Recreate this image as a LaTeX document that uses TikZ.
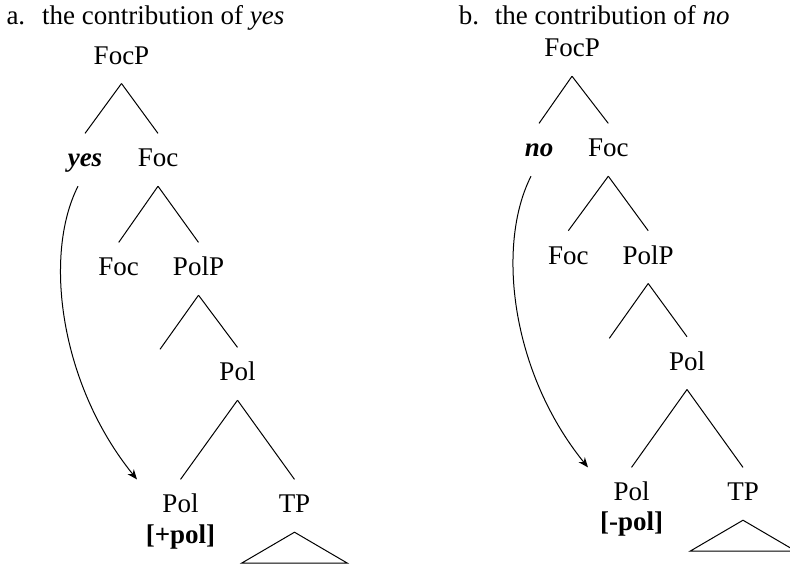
\documentclass[tikz,border=0pt]{standalone}
\usepackage{fontspec}
\setmainfont{Liberation Serif}
\usetikzlibrary{arrows.meta}
\begin{document}
\begin{tikzpicture}[x=0.5pt,y=-0.5pt,line width=0.5pt,
  cat/.style={font=\fontsize{13.5}{16}\selectfont, inner xsep=0pt, inner ysep=7.5pt, text height=8.9pt, text depth=2pt},
  lbl/.style={font=\fontsize{13.5}{16}\selectfont, inner sep=0pt, anchor=base west},
  feat/.style={font=\fontsize{13.5}{16}\selectfont\bfseries, inner sep=0pt, anchor=base},
  move/.style={-{Stealth[length=5pt,width=4pt]}}]
\useasboundingbox (0,0) rectangle (790,564);

\node[lbl] (aNum) at (6,24) {a.};
\node[lbl] (aTitle) at (41.7,24) {the contribution of \textit{yes}};
%% nodes
\node[cat] (aFocP) at (121.5,57.1) {FocP};
\node[cat] (aYes) at (85,159.8) {\textbf{\textit{yes}}};
\node[cat] (aFoc) at (158,159.8) {Foc};
\node[cat] (aFocH) at (118.7,268.8) {Foc};
\node[cat] (aPolP) at (198.5,268.8) {PolP};
\coordinate (aGap) at (160,349.3);
\node[cat] (aPol) at (237.5,373.8) {Pol};
\node[cat] (aPolH) at (180.5,505.8) {Pol};
\node[feat] (aFeat) at (180.5,543.3) {[+pol]};
\node[cat] (aTP) at (294.5,505.8) {TP};
%%% edges
\draw (aFocP.south) -- (aYes.north);
\draw (aFocP.south) -- (aFoc.north);
\draw (aFoc.south) -- (aFocH.north);
\draw (aFoc.south) -- (aPolP.north);
\draw (aPolP.south) -- (aGap);
\draw (aPolP.south) -- (aPol.north);
\draw (aPol.south) -- (aPolH.north);
\draw (aPol.south) -- (aTP.north);
\draw (aTP.south) -- ++(-53,31) -- ++(106,0) -- cycle;
\draw[move] ([xshift=-3.5pt]aYes.south) .. controls +(-35,69) and +(-77,-95) .. ([xshift=-12.5pt]aPolH.north west);

\node[lbl] (bNum) at (458.3,24) {b.};
\node[lbl] (bTitle) at (494.3,24) {the contribution of \textit{no}};
%% nodes
\node[cat] (bFocP) at (572,49.8) {FocP};
\node[cat] (bNo) at (539,149.8) {\textbf{\textit{no}}};
\node[cat] (bFoc) at (608.3,149.8) {Foc};
\node[cat] (bFocH) at (568.3,257.1) {Foc};
\node[cat] (bPolP) at (648.2,257.1) {PolP};
\coordinate (bGap) at (609.3,338.3);
\node[cat] (bPol) at (687,363.1) {Pol};
\node[cat] (bPolH) at (631.5,493.8) {Pol};
\node[feat] (bFeat) at (631.5,530.7) {[-pol]};
\node[cat] (bTP) at (743,493.8) {TP};
%%% edges
\draw (bFocP.south) -- (bNo.north);
\draw (bFocP.south) -- (bFoc.north);
\draw (bFoc.south) -- (bFocH.north);
\draw (bFoc.south) -- (bPolP.north);
\draw (bPolP.south) -- (bGap);
\draw (bPolP.south) -- (bPol.north);
\draw (bPol.south) -- (bPolH.north);
\draw (bPol.south) -- (bTP.north);
\draw (bTP.south) -- ++(-53,31) -- ++(106,0) -- cycle;
\draw[move] ([xshift=-4pt]bNo.south) .. controls +(-35,69) and +(-77,-95) .. ([xshift=-12.5pt]bPolH.north west);
\end{tikzpicture}
\end{document}
